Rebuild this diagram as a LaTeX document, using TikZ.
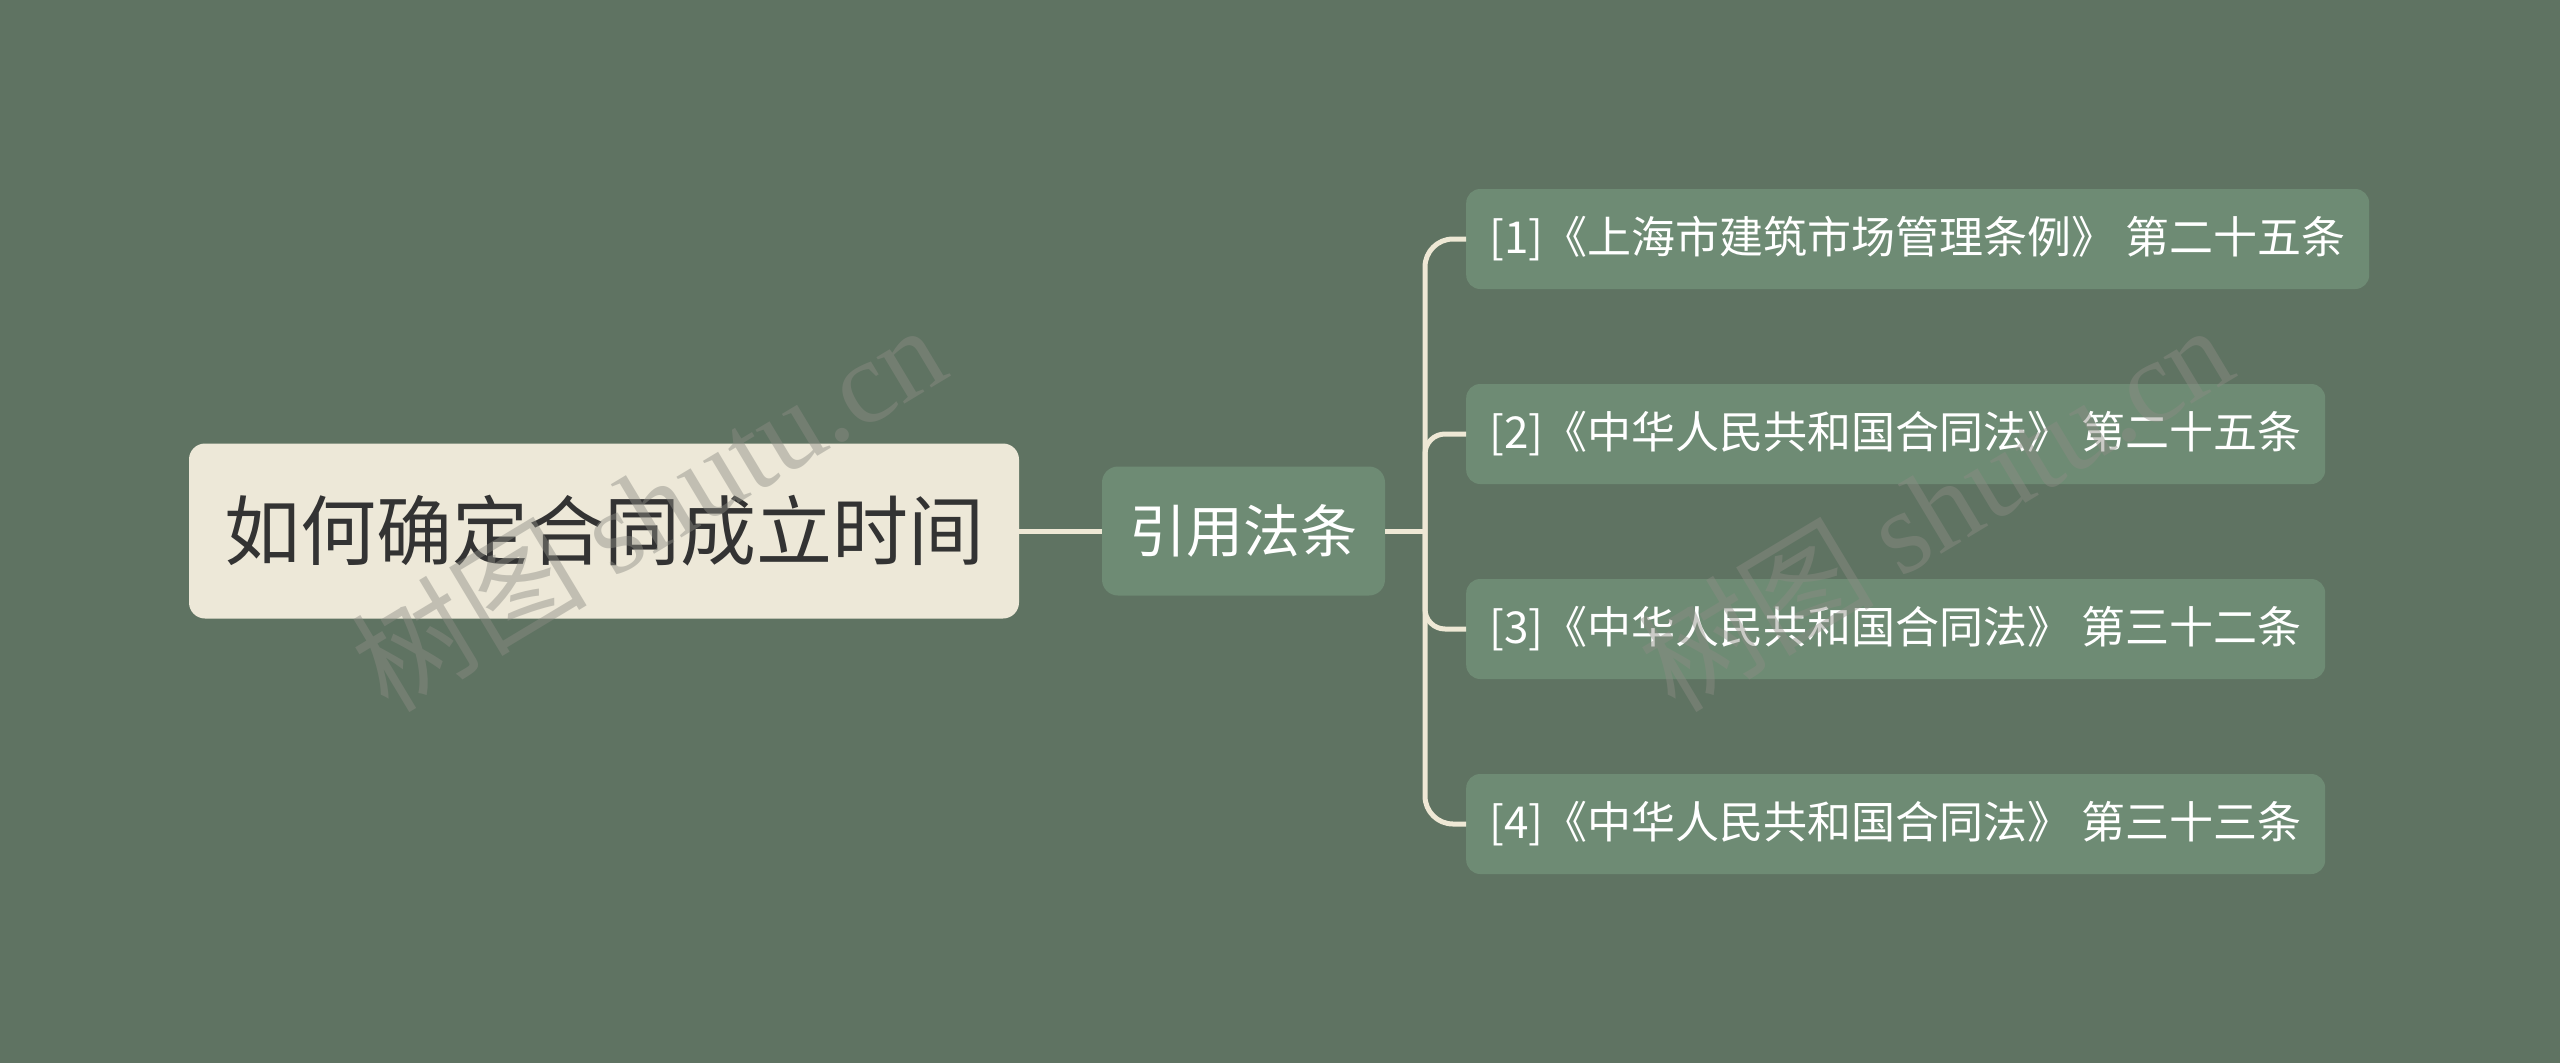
\documentclass[tikz,border=0pt]{standalone}
\usepackage{fontspec}
\setmainfont{Noto Sans CJK SC}
\newfontfamily\wmfont{Liberation Serif}
\newfontfamily\cjkfont{Noto Sans CJK SC}
\definecolor{bgc}{HTML}{5F7362}
\definecolor{rootfill}{HTML}{EDE8D8}
\definecolor{rootText}{HTML}{333333}
\definecolor{boxfill}{HTML}{6E8B74}
\definecolor{linec}{HTML}{EEE8D5}
\definecolor{wmc}{HTML}{8C8C84}
\tikzset{
  rootbox/.style={fill=rootfill, rounded corners=16pt, text=rootText, minimum width=830pt, minimum height=175pt, inner sep=0pt, font=\fontsize{76}{84}\selectfont},
  midbox/.style={fill=boxfill, rounded corners=16pt, text=white, minimum width=283pt, minimum height=129pt, inner sep=0pt, font=\fontsize{57}{64}\selectfont},
  leafbox/.style={fill=boxfill, rounded corners=14pt, text=white, minimum height=100pt, inner sep=0pt, anchor=west, font=\fontsize{44}{50}\selectfont},
  conn/.style={draw=linec, line width=5pt},
  wm/.style={text=wmc, opacity=0.45, rotate=31, font=\fontsize{118}{124}\selectfont}
}
\begin{document}
\begin{tikzpicture}[x=1pt,y=-1pt]
\fill[bgc] (0,0) rectangle (2560,1063);
\useasboundingbox (0,0) rectangle (2560,1063);
\node[rootbox] (root) at (604,531) {如何确定合同成立时间};
\node[midbox] (mid) at (1243.5,531) {引用法条};
\node[leafbox, minimum width=903pt] (l1) at (1466,239) {[1]《上海市建筑市场管理条例》 第二十五条};
\node[leafbox, minimum width=859pt] (l2) at (1466,434) {[2]《中华人民共和国合同法》 第二十五条};
\node[leafbox, minimum width=859pt] (l3) at (1466,629) {[3]《中华人民共和国合同法》 第三十二条};
\node[leafbox, minimum width=859pt] (l4) at (1466,824) {[4]《中华人民共和国合同法》 第三十三条};
\coordinate (trunk) at (1425,531);
\draw[conn] (root.east) -- (mid.west);
\draw[conn] (mid.east) -- (trunk);
\draw[conn, rounded corners=28pt] (l1.west) -- (trunk |- l1.west) -- (trunk |- l4.west) -- (l4.west);
\draw[conn, rounded corners=20pt] (l2.west) -- (trunk |- l2.west) -- (trunk);
\draw[conn, rounded corners=20pt] (l3.west) -- (trunk |- l3.west) -- (trunk);
\node[wm] (wm1) at (648,506) {\cjkfont 树图\ \wmfont shutu.cn};
\node[wm] (wm2) at (1935,506) {\cjkfont 树图\ \wmfont shutu.cn};
\end{tikzpicture}
\end{document}
